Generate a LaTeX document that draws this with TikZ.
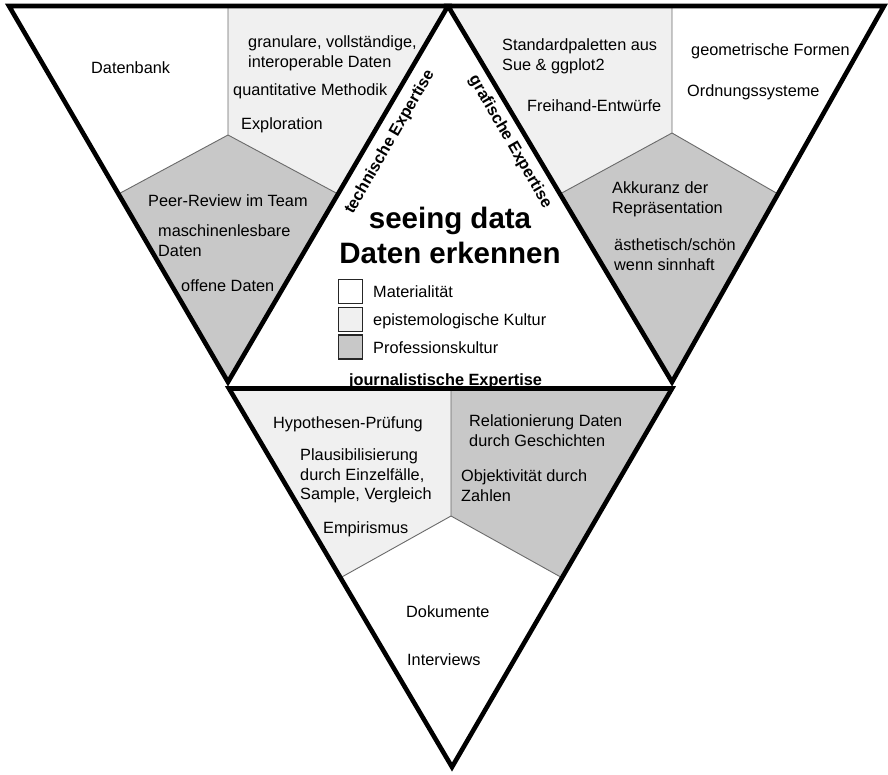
\documentclass[tikz,border=0pt]{standalone}
\usepackage{fontspec}
\setmainfont{Liberation Sans}
\usetikzlibrary{calc}
\definecolor{lightfill}{HTML}{F0F0F0}
\definecolor{darkfill}{HTML}{C8C8C8}
\definecolor{thinline}{HTML}{6A6A6A}
\begin{document}
\begin{tikzpicture}[x=1pt,y=-1pt,
  outline/.style={draw=black, line width=4.6pt, line join=miter},
  divider/.style={draw=thinline, line width=0.9pt},
  item/.style={font=\fontsize{16.3}{19.5}\selectfont, inner sep=0pt, align=left, text=black},
  expertise/.style={font=\fontsize{16.3}{19.5}\selectfont\bfseries, inner sep=0pt},
  title/.style={font=\fontsize{29.5}{35}\selectfont\bfseries, inner sep=0pt, align=center},
  legendbox/.style={draw=black!85, line width=1.4pt, minimum width=24pt, minimum height=24pt, inner sep=0pt},
]
\useasboundingbox (0,0) rectangle (888,775);
\fill[white] (0,0) rectangle (888,775);

% main vertices
\coordinate (A) at (9,6);
\coordinate (M) at (448,6);
\coordinate (B) at (884,6);
\coordinate (L) at (228,382);
\coordinate (R) at (672,382);
\coordinate (P) at (229,388.5);
\coordinate (Q) at (672,388.5);
\coordinate (C) at (452,767);

% left triangle subdivision
\coordinate (lt) at (228,6);
\coordinate (lg) at (228,135);
\coordinate (ll) at ($(A)!0.5!(L)$);
\coordinate (lr) at ($(M)!0.5!(L)$);
% right triangle subdivision
\coordinate (rt) at (672,6);
\coordinate (rg) at (672,133);
\coordinate (rl) at ($(M)!0.5!(R)$);
\coordinate (rr) at ($(B)!0.5!(R)$);
% bottom triangle subdivision
\coordinate (bt) at (451,388.5);
\coordinate (bg) at (451,516);
\coordinate (bl) at ($(P)!0.5!(C)$);
\coordinate (br) at ($(Q)!0.5!(C)$);

% fills
\fill[white] (A) -- (lt) -- (lg) -- (ll) -- cycle;
\fill[lightfill] (lt) -- (M) -- (lr) -- (lg) -- cycle;
\fill[darkfill] (ll) -- (lg) -- (lr) -- (L) -- cycle;

\fill[lightfill] (M) -- (rt) -- (rg) -- (rl) -- cycle;
\fill[white] (rt) -- (B) -- (rr) -- (rg) -- cycle;
\fill[darkfill] (rl) -- (rg) -- (rr) -- (R) -- cycle;

\fill[lightfill] (P) -- (bt) -- (bg) -- (bl) -- cycle;
\fill[darkfill] (bt) -- (Q) -- (br) -- (bg) -- cycle;
\fill[white] (bl) -- (bg) -- (br) -- (C) -- cycle;

% thin dividers
\draw[divider] (lg) -- (lt) (lg) -- (ll) (lg) -- (lr);
\draw[divider] (rg) -- (rt) (rg) -- (rl) (rg) -- (rr);
\draw[divider] (bg) -- (bt) (bg) -- (bl) (bg) -- (br);

% thick outlines
\draw[outline] (A) -- (M) -- (L) -- cycle;
\draw[outline] (M) -- (B) -- (R) -- cycle;
\draw[outline] (P) -- (Q) -- (C) -- cycle;

% left triangle texts
\node[item, anchor=base west] (datenbank) at (91,74) {Datenbank};
\node[item, anchor=north west] (granulare) at (248,35.5) {granulare, vollständige,\\interoperable Daten};
\node[item, anchor=base west] (quanti) at (233,96) {quantitative Methodik};
\node[item, anchor=base west] (explor) at (241,130) {Exploration};
\node[item, anchor=base west] (peer) at (148,207) {Peer-Review im Team};
\node[item, anchor=north west] (maschinen) at (158,224.5) {maschinenlesbare\\Daten};
\node[item, anchor=base west] (offene) at (181,292) {offene Daten};

% right triangle texts
\node[item, anchor=north west] (standard) at (502,38.5) {Standardpaletten aus\\Sue \& ggplot2};
\node[item, anchor=base west] (freihand) at (527,112) {Freihand-Entwürfe};
\node[item, anchor=base west] (geom) at (691,56) {geometrische Formen};
\node[item, anchor=base west] (ordnung) at (687,97) {Ordnungssysteme};
\node[item, anchor=north west] (akkuranz) at (612,181.5) {Akkuranz der\\Repräsentation};
\node[item, anchor=north west] (aesth) at (614,238.5) {ästhetisch/schön\\wenn sinnhaft};

% bottom triangle texts
\node[item, anchor=base west] (hypo) at (273,428) {Hypothesen-Prüfung};
\node[item, anchor=north west] (plaus) at (300,448.5) {Plausibilisierung\\durch Einzelfälle,\\Sample, Vergleich};
\node[item, anchor=base west] (empir) at (323,533) {Empirismus};
\node[item, anchor=north west] (relat) at (469,414.5) {Relationierung Daten\\durch Geschichten};
\node[item, anchor=north west] (objekt) at (461,469.5) {Objektivität durch\\Zahlen};
\node[item, anchor=base west] (doku) at (406,617) {Dokumente};
\node[item, anchor=base west] (interv) at (407,665) {Interviews};

% expertise labels
\node[expertise, rotate=60] (technisch) at (390,142) {technische Expertise};
\node[expertise, rotate=-60] (grafisch) at (510,142) {grafische Expertise};
\node[expertise, anchor=base] (journal) at (445.5,385) {journalistische Expertise};

% title
\node[title, anchor=north] (title) at (450,207) {seeing data\\Daten erkennen};

% legend
\node[legendbox, fill=white] (lb1) at (350.5,291.5) {};
\node[legendbox, fill=lightfill] (lb2) at (350.5,319.5) {};
\node[legendbox, fill=darkfill] (lb3) at (350.5,347) {};
\node[item, anchor=base west] (lt1) at (373,297.5) {Materialität};
\node[item, anchor=base west] (lt2) at (373,325.5) {epistemologische Kultur};
\node[item, anchor=base west] (lt3) at (373,353) {Professionskultur};
\end{tikzpicture}
\end{document}
